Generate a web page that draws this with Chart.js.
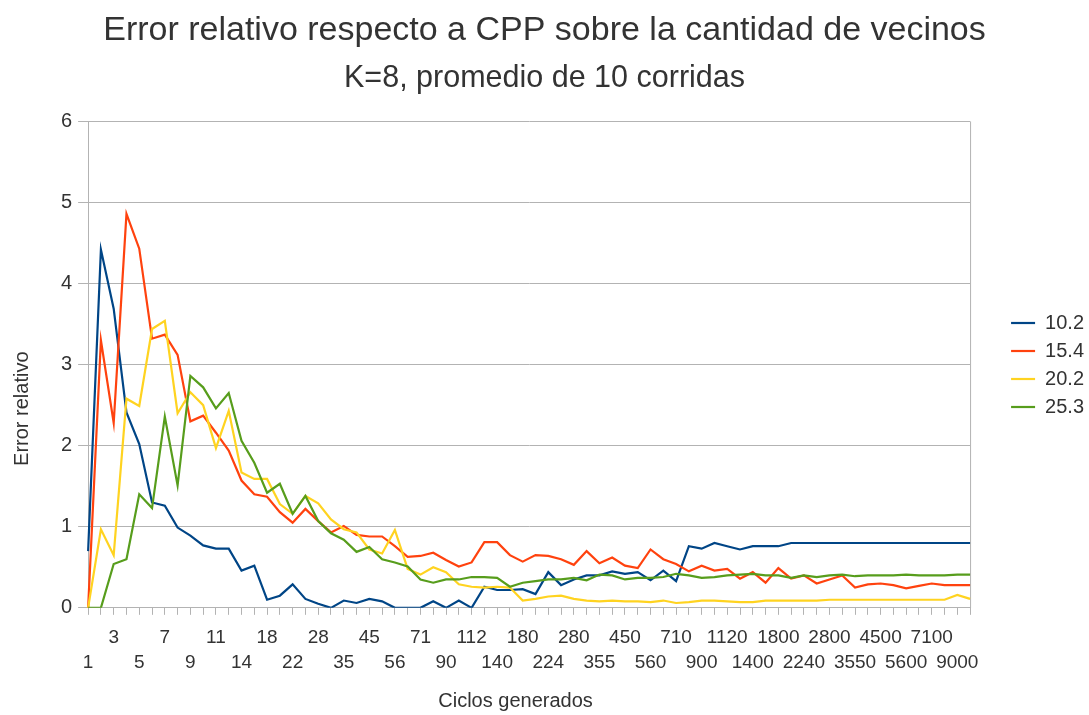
<!DOCTYPE html>
<html>
<head>
<meta charset="utf-8">
<script src="https://cdn.jsdelivr.net/npm/chart.js@4/dist/chart.umd.min.js"></script>
<style>
  body { margin: 0; background: #fff; }
  #wrap { width: 1089px; height: 715px; }
</style>
</head>
<body>
<div id="wrap"><canvas id="chart"></canvas></div>
<script>
// Ciclos generados (eje X)
const ciclos = [1, 2, 3, 4, 5, 6, 7, 8, 9, 10, 11, 12, 14, 16, 18, 20, 22, 25, 28, 32,
  35, 40, 45, 50, 56, 63, 71, 80, 90, 100, 112, 125, 140, 160, 180, 200, 224, 250, 280, 315,
  355, 400, 450, 500, 560, 630, 710, 800, 900, 1000, 1120, 1250, 1400, 1600, 1800, 2000, 2240, 2500, 2800, 3150,
  3550, 4000, 4500, 5000, 5600, 6300, 7100, 8000, 9000, 10000];

const serie102 = [0.70, 4.42, 3.69, 2.41, 2.02, 1.30, 1.26, 0.99, 0.89, 0.77, 0.73, 0.73, 0.46, 0.52, 0.10, 0.15, 0.29, 0.11, 0.05, 0.00,
  0.09, 0.06, 0.11, 0.08, 0.00, 0.00, 0.00, 0.08, 0.00, 0.09, 0.00, 0.26, 0.22, 0.22, 0.23, 0.17, 0.44, 0.28, 0.35, 0.40,
  0.40, 0.45, 0.42, 0.44, 0.34, 0.46, 0.33, 0.76, 0.73, 0.80, 0.76, 0.72, 0.76, 0.76, 0.76, 0.80, 0.80, 0.80, 0.80, 0.80,
  0.80, 0.80, 0.80, 0.80, 0.80, 0.80, 0.80, 0.80, 0.80, 0.80];

const serie154 = [0.00, 3.30, 2.28, 4.86, 4.43, 3.32, 3.37, 3.12, 2.30, 2.37, 2.16, 1.94, 1.57, 1.40, 1.37, 1.18, 1.05, 1.22, 1.07, 0.93,
  1.01, 0.90, 0.88, 0.88, 0.76, 0.63, 0.64, 0.68, 0.59, 0.51, 0.56, 0.81, 0.81, 0.65, 0.57, 0.65, 0.64, 0.60, 0.53, 0.70,
  0.55, 0.62, 0.52, 0.49, 0.72, 0.60, 0.54, 0.45, 0.52, 0.46, 0.48, 0.36, 0.44, 0.31, 0.49, 0.36, 0.40, 0.30, 0.35, 0.40,
  0.25, 0.29, 0.30, 0.28, 0.24, 0.27, 0.30, 0.28, 0.28, 0.28];

const serie202 = [0.00, 0.97, 0.65, 2.58, 2.49, 3.44, 3.54, 2.40, 2.66, 2.50, 1.97, 2.43, 1.67, 1.59, 1.59, 1.28, 1.16, 1.38, 1.29, 1.09,
  0.97, 0.93, 0.72, 0.67, 0.96, 0.48, 0.41, 0.50, 0.44, 0.29, 0.26, 0.25, 0.26, 0.25, 0.09, 0.11, 0.14, 0.15, 0.11, 0.09,
  0.08, 0.09, 0.08, 0.08, 0.07, 0.09, 0.06, 0.07, 0.09, 0.09, 0.08, 0.07, 0.07, 0.09, 0.09, 0.09, 0.09, 0.09, 0.10, 0.10,
  0.10, 0.10, 0.10, 0.10, 0.10, 0.10, 0.10, 0.10, 0.16, 0.11];

const serie253 = [0.00, 0.00, 0.54, 0.60, 1.40, 1.23, 2.36, 1.51, 2.86, 2.72, 2.46, 2.65, 2.06, 1.79, 1.42, 1.53, 1.16, 1.38, 1.07, 0.92,
  0.84, 0.69, 0.75, 0.60, 0.56, 0.51, 0.35, 0.31, 0.35, 0.35, 0.38, 0.38, 0.37, 0.26, 0.31, 0.33, 0.35, 0.35, 0.37, 0.34,
  0.41, 0.40, 0.35, 0.37, 0.37, 0.38, 0.42, 0.40, 0.37, 0.38, 0.40, 0.41, 0.42, 0.40, 0.40, 0.37, 0.40, 0.38, 0.40, 0.41,
  0.39, 0.40, 0.40, 0.40, 0.41, 0.40, 0.40, 0.40, 0.41, 0.41];

const nombres = ['10.2', '15.4', '20.2', '25.3'];
const colores = ['#004586', '#ff420e', '#ffd320', '#579d1c'];
const series = [serie102, serie154, serie202, serie253];

const tituloX = 'Ciclos generados';
const tituloY = 'Error relativo';

const gris = '#b3b3b3';
const texto = '#333333';
const fuente = "'Liberation Sans', Arial, sans-serif";

// marco derecho del area de grafico
const bordePlugin = {
  id: 'borde',
  beforeDatasetsDraw(chart) {
    const { ctx, chartArea } = chart;
    ctx.save();
    ctx.strokeStyle = gris;
    ctx.lineWidth = 1;
    ctx.beginPath();
    ctx.moveTo(chartArea.right + 0.5, chartArea.top);
    ctx.lineTo(chartArea.right + 0.5, chartArea.bottom);
    ctx.stroke();
    ctx.restore();
  }
};

// leyenda separada del grafico, como en el original
const leyendaPlugin = {
  id: 'leyenda',
  beforeLayout(chart) {
    const lg = chart.legend;
    if (lg && !lg._ancho) {
      const fit = lg.fit;
      lg.fit = function () {
        fit.call(this);
        this.width += 28;
      };
      lg._ancho = true;
    }
  },
  afterLayout(chart) {
    const lg = chart.legend;
    const w = lg.width, h = lg.height;
    lg.left = chart.chartArea.right + 33;
    lg.right = lg.left + w;
    lg.top = 305;
    lg.bottom = lg.top + h;
  }
};

// titulos de ejes centrados sobre el diagrama completo (ejes incluidos)
const titulosPlugin = {
  id: 'titulosEjes',
  afterDraw(chart) {
    const { ctx, chartArea, scales } = chart;
    ctx.save();
    ctx.fillStyle = texto;
    ctx.font = '20px ' + fuente;
    ctx.textAlign = 'center';
    ctx.textBaseline = 'middle';
    const anchoEtiq = ctx.measureText('6').width;
    const xIzq = chartArea.left - 16 - anchoEtiq;
    ctx.fillText(tituloX, (xIzq + chartArea.right) / 2, scales.x.bottom - 13);
    ctx.translate(scales.y.left + 22, (chartArea.top + scales.x.bottom) / 2 - 9);
    ctx.rotate(-Math.PI / 2);
    ctx.fillText(tituloY, 0, 0);
    ctx.restore();
  }
};

const ctx = document.getElementById('chart').getContext('2d');
new Chart(ctx, {
  type: 'line',
  data: {
    labels: ciclos,
    datasets: series.map((s, i) => ({
      label: nombres[i],
      data: s,
      borderColor: colores[i],
      backgroundColor: colores[i],
      borderWidth: 2.2,
      pointRadius: 0,
      tension: 0,
      order: series.length - i
    }))
  },
  options: {
    responsive: true,
    maintainAspectRatio: false,
    animation: false,
    layout: { padding: { left: 0, right: 0, top: 0, bottom: 1 } },
    plugins: {
      title: {
        display: true,
        text: 'Error relativo respecto a CPP sobre la cantidad de vecinos',
        color: texto,
        font: { family: fuente, size: 34, weight: 'normal' },
        padding: { top: 10, bottom: 9 }
      },
      subtitle: {
        display: true,
        text: 'K=8, promedio de 10 corridas',
        color: texto,
        font: { family: fuente, size: 30.5, weight: 'normal' },
        padding: { top: 0, bottom: 25 }
      },
      legend: {
        position: 'right',
        align: 'start',
        labels: {
          color: texto,
          font: { family: fuente, size: 20 },
          usePointStyle: true,
          pointStyle: 'line',
          pointStyleWidth: 24,
          padding: 8,
          sort: (a, b) => a.datasetIndex - b.datasetIndex
        }
      },
      tooltip: { enabled: false }
    },
    scales: {
      x: {
        title: {
          display: true,
          text: tituloX,
          color: 'rgba(0,0,0,0)',
          font: { family: fuente, size: 20 },
          padding: { top: 5, bottom: 0 }
        },
        grid: {
          display: true,
          drawOnChartArea: false,
          drawTicks: true,
          tickLength: 7,
          color: gris
        },
        border: { color: gris },
        ticks: {
          autoSkip: false,
          maxRotation: 0,
          minRotation: 0,
          padding: 10,
          color: texto,
          font: { family: fuente, size: 19, lineHeight: 1.32 },
          callback: function (value, index) {
            if (index % 2) return '';
            const lbl = String(this.getLabelForValue(value));
            return index % 4 === 0 ? ['', lbl] : [lbl];
          }
        }
      },
      y: {
        min: 0,
        max: 6,
        title: {
          display: true,
          text: tituloY,
          color: 'rgba(0,0,0,0)',
          font: { family: fuente, size: 20 },
          padding: { top: 10, bottom: 21 }
        },
        grid: { color: gris, tickLength: 10 },
        border: { color: gris },
        ticks: {
          stepSize: 1,
          padding: 6,
          color: texto,
          font: { family: fuente, size: 20 }
        }
      }
    }
  },
  plugins: [bordePlugin, leyendaPlugin, titulosPlugin]
});
</script>
</body>
</html>
